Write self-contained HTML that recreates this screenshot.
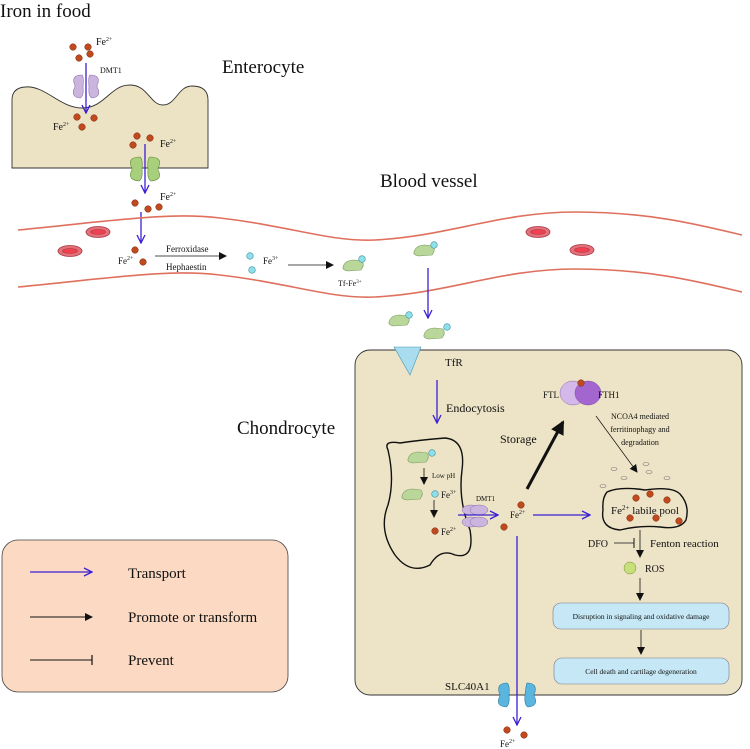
<!DOCTYPE html>
<html><head><meta charset="utf-8"><style>
html,body{margin:0;padding:0;background:#fff}
svg{display:block}
text{font-family:"Liberation Serif",serif;fill:#111}
</style></head><body>
<svg width="750" height="749" viewBox="0 0 750 749" xmlns="http://www.w3.org/2000/svg">
<defs>
<marker id="ab" markerWidth="10" markerHeight="10" refX="9" refY="5" orient="auto" markerUnits="userSpaceOnUse"><path d="M1,1 L9,5 L1,9" fill="none" stroke="#3a1fd6" stroke-width="1.3"/></marker>
<marker id="ak" markerWidth="8" markerHeight="8" refX="7" refY="4" orient="auto" markerUnits="userSpaceOnUse"><path d="M0,0 L8,4 L0,8 Z" fill="#111"/></marker>
<marker id="akb" markerWidth="14" markerHeight="14" refX="12" refY="7" orient="auto" markerUnits="userSpaceOnUse"><path d="M0,0 L14,7 L0,14 Z" fill="#111"/></marker>
<g id="fe"><circle r="3.3" fill="#c04a1e" stroke="#7a2a10" stroke-width="0.5"/></g>
<g id="fe3"><circle r="3.3" fill="#8fe0ea" stroke="#3a8fa0" stroke-width="0.6"/></g>
<g id="tf"><path d="M-11,2 Q-9,-5 0,-5 L8,-4 Q11,0 7,5 L-6,6 Q-12,5 -11,2Z" fill="#b9d79a" stroke="#7a9a5a" stroke-width="0.6"/></g>
<g id="rbc"><ellipse rx="12" ry="5.5" fill="#e5707a" stroke="#a53a44" stroke-width="0.8"/><ellipse rx="7.5" ry="2.5" fill="#f04050" stroke="#a53a44" stroke-width="0.6"/></g>
</defs>

<text x="0" y="17" font-size="19">Iron in food</text>
<text x="222" y="73" font-size="19">Enterocyte</text>
<text x="380" y="187" font-size="19">Blood vessel</text>
<text x="237" y="434" font-size="19">Chondrocyte</text>

<!-- enterocyte -->
<path d="M12,168 L12,100 Q12,88 25,87 C45,85 60,108 82,108 C105,108 110,85 130,85 C148,85 150,105 163,105 C176,105 178,86 192,86 Q208,86 208,100 L208,168 Z" fill="#ece2c4" stroke="#333" stroke-width="0.9"/>
<path d="M82,75 q-10,0 -8,8 q2,3 0,6 q-3,8 6,9 q4,-2 3,-11 q1,-10 -1,-12z" fill="#cbb5df" stroke="#8a72a8" stroke-width="0.6"/>
<path d="M90,75 q10,0 8,8 q-2,3 0,6 q3,8 -6,9 q-4,-2 -3,-11 q-1,-10 1,-12z" fill="#cbb5df" stroke="#8a72a8" stroke-width="0.6"/>
<line x1="86" y1="63" x2="86" y2="113" stroke="#3a1fd6" stroke-width="1.3" marker-end="url(#ab)"/>
<use href="#fe" x="73" y="47"/><use href="#fe" x="88" y="47"/><use href="#fe" x="79" y="58"/><use href="#fe" x="90" y="54"/>
<text x="96" y="45" font-size="10">Fe<tspan font-size="6" dy="-4">2+</tspan></text>
<text x="100" y="73" font-size="8">DMT1</text>
<use href="#fe" x="77" y="117"/><use href="#fe" x="94" y="118"/><use href="#fe" x="82" y="127"/>
<text x="53" y="130" font-size="10">Fe<tspan font-size="6" dy="-4">2+</tspan></text>
<use href="#fe" x="137" y="136"/><use href="#fe" x="150" y="138"/><use href="#fe" x="133" y="145"/>
<text x="160" y="147" font-size="10">Fe<tspan font-size="6" dy="-4">2+</tspan></text>
<path d="M140,157 q-12,0 -9,9 q2,3 0,6 q-3,8 8,9 q4,-2 3,-12 q1,-10 -2,-12z" fill="#a7cf7c" stroke="#5f8a3a" stroke-width="0.6"/>
<path d="M150,157 q12,0 9,9 q-2,3 0,6 q3,8 -8,9 q-4,-2 -3,-12 q-1,-10 2,-12z" fill="#a7cf7c" stroke="#5f8a3a" stroke-width="0.6"/>
<line x1="145" y1="144" x2="145" y2="193" stroke="#3a1fd6" stroke-width="1.3" marker-end="url(#ab)"/>
<text x="160" y="200" font-size="10">Fe<tspan font-size="6" dy="-4">2+</tspan></text>
<use href="#fe" x="135" y="203"/><use href="#fe" x="148" y="209"/><use href="#fe" x="159" y="207"/>
<line x1="141" y1="212" x2="141" y2="243" stroke="#3a1fd6" stroke-width="1.3" marker-end="url(#ab)"/>

<!-- vessel -->
<path d="M18,230 C120,220 170,212 220,218 C290,226 330,242 375,240 C450,236 500,212 575,212 C650,212 700,225 742,235" fill="none" stroke="#e0705e" stroke-width="1.6"/>
<path d="M18,287 C120,277 170,269 220,275 C290,283 330,299 375,297 C450,293 500,269 575,269 C650,269 700,282 742,292" fill="none" stroke="#e0705e" stroke-width="1.6"/>
<use href="#rbc" x="98" y="232"/><use href="#rbc" x="70" y="251"/><use href="#rbc" x="538" y="232"/><use href="#rbc" x="582" y="250"/>
<use href="#fe" x="135" y="250"/><use href="#fe" x="143" y="262"/>
<text x="118" y="264" font-size="9">Fe<tspan font-size="6" dy="-4">2+</tspan></text>
<text x="166" y="252" font-size="9">Ferroxidase</text>
<line x1="155" y1="256" x2="226" y2="256" stroke="#111" stroke-width="0.8" marker-end="url(#ak)"/>
<text x="166" y="270" font-size="9">Hephaestin</text>
<use href="#fe3" x="250" y="256"/><use href="#fe3" x="252" y="270"/>
<text x="263" y="264" font-size="9">Fe<tspan font-size="6" dy="-4">3+</tspan></text>
<line x1="288" y1="265" x2="333" y2="265" stroke="#111" stroke-width="0.8" marker-end="url(#ak)"/>
<use href="#tf" x="354" y="265"/><use href="#fe3" x="362" y="259"/>
<text x="338" y="286" font-size="8">Tf-Fe<tspan font-size="5" dy="-3">3+</tspan></text>
<use href="#tf" x="425" y="250"/><use href="#fe3" x="434" y="245"/>
<line x1="428" y1="268" x2="428" y2="318" stroke="#3a1fd6" stroke-width="1.3" marker-end="url(#ab)"/>
<use href="#tf" x="400" y="320"/><use href="#fe3" x="409" y="315"/>
<use href="#tf" x="435" y="333"/><use href="#fe3" x="447" y="327"/>

<!-- legend -->
<rect x="2" y="540" width="286" height="152" rx="16" fill="#fbd9c3" stroke="#444" stroke-width="0.8"/>
<line x1="30" y1="572" x2="92" y2="572" stroke="#3a1fd6" stroke-width="1.3" marker-end="url(#ab)"/>
<text x="128" y="578" font-size="15">Transport</text>
<line x1="30" y1="617" x2="92" y2="617" stroke="#111" stroke-width="1" marker-end="url(#ak)"/>
<text x="128" y="622" font-size="15">Promote or transform</text>
<line x1="30" y1="660" x2="92" y2="660" stroke="#111" stroke-width="1"/><line x1="92" y1="655" x2="92" y2="665" stroke="#111" stroke-width="1.2"/>
<text x="128" y="665" font-size="15">Prevent</text>

<!-- chondrocyte -->
<rect x="355" y="350" width="387" height="345" rx="15" fill="#ede3c6" stroke="#333" stroke-width="0.9"/>
<path d="M394,347 L421,347 L410,375 Z" fill="#a8dcee" stroke="#4a9ab8" stroke-width="0.6"/>
<text x="445" y="366" font-size="11">TfR</text>
<line x1="437" y1="380" x2="437" y2="423" stroke="#3a1fd6" stroke-width="1.3" marker-end="url(#ab)"/>
<text x="446" y="412" font-size="12">Endocytosis</text>
<path d="M388,450 Q383,440 400,443 Q420,440 445,438 Q466,440 462,470 Q458,500 470,530 Q475,560 455,555 Q440,548 430,565 Q410,575 395,555 Q378,530 388,505 Q395,480 388,450Z" fill="none" stroke="#111" stroke-width="1.4"/>
<use href="#tf" x="419" y="457"/><use href="#fe3" x="432" y="453"/>
<line x1="424" y1="468" x2="424" y2="484" stroke="#111" stroke-width="0.8" marker-end="url(#ak)"/>
<text x="432" y="478" font-size="7">Low pH</text>
<use href="#tf" x="413" y="494"/><use href="#fe3" x="435" y="494"/>
<text x="441" y="498" font-size="9">Fe<tspan font-size="6" dy="-4">3+</tspan></text>
<line x1="434" y1="500" x2="434" y2="517" stroke="#111" stroke-width="0.8" marker-end="url(#ak)"/>
<use href="#fe" x="435" y="531"/>
<text x="441" y="535" font-size="9">Fe<tspan font-size="6" dy="-4">2+</tspan></text>
<text x="476" y="501" font-size="7">DMT1</text>
<ellipse cx="471" cy="510" rx="9" ry="5" fill="#cbb5df" stroke="#8a72a8" stroke-width="0.5"/>
<ellipse cx="479" cy="510" rx="9" ry="5" fill="#cbb5df" stroke="#8a72a8" stroke-width="0.5"/>
<ellipse cx="471" cy="522" rx="9" ry="5" fill="#cbb5df" stroke="#8a72a8" stroke-width="0.5"/>
<ellipse cx="479" cy="522" rx="9" ry="5" fill="#cbb5df" stroke="#8a72a8" stroke-width="0.5"/>
<line x1="458" y1="515" x2="498" y2="515" stroke="#3a1fd6" stroke-width="1.3" marker-end="url(#ab)"/>
<use href="#fe" x="521" y="505"/><use href="#fe" x="504" y="527"/>
<text x="510" y="518" font-size="9">Fe<tspan font-size="6" dy="-4">2+</tspan></text>
<line x1="533" y1="515" x2="590" y2="515" stroke="#3a1fd6" stroke-width="1.3" marker-end="url(#ab)"/>
<line x1="517" y1="536" x2="517" y2="725" stroke="#3a1fd6" stroke-width="1.3" marker-end="url(#ab)"/>
<text x="500" y="443" font-size="12">Storage</text>
<line x1="527" y1="489" x2="563" y2="422" stroke="#111" stroke-width="3" marker-end="url(#akb)"/>
<ellipse cx="573" cy="393" rx="13" ry="12" fill="#d4b8ea" stroke="#8a72a8" stroke-width="0.5"/>
<ellipse cx="588" cy="393" rx="13" ry="12" fill="#a366cf" stroke="#7a4aa8" stroke-width="0.5"/>
<use href="#fe" x="581" y="383"/>
<text x="543" y="398" font-size="9">FTL</text>
<text x="598" y="398" font-size="9">FTH1</text>
<text x="640" y="419" font-size="8" text-anchor="middle">NCOA4 mediated</text>
<text x="640" y="432" font-size="8" text-anchor="middle">ferritinophagy and</text>
<text x="640" y="445" font-size="8" text-anchor="middle">degradation</text>
<line x1="596" y1="416" x2="637" y2="472" stroke="#111" stroke-width="0.7" marker-end="url(#ak)"/>
<g fill="none" stroke="#777" stroke-width="0.6">
<ellipse cx="614" cy="469" rx="3" ry="1.5"/><ellipse cx="624" cy="478" rx="3" ry="1.5"/><ellipse cx="646" cy="464" rx="3" ry="1.5"/><ellipse cx="649" cy="472" rx="3" ry="1.5"/><ellipse cx="667" cy="478" rx="3" ry="1.5"/><ellipse cx="603" cy="486" rx="3" ry="1.5"/></g>
<path d="M607,492 Q620,486 645,490 Q672,486 680,494 Q690,505 686,520 Q680,530 660,527 Q640,525 620,530 Q600,528 603,510 Q602,498 607,492Z" fill="none" stroke="#111" stroke-width="1.4"/>
<use href="#fe" x="636" y="498"/><use href="#fe" x="650" y="494"/><use href="#fe" x="667" y="500"/><use href="#fe" x="630" y="518"/><use href="#fe" x="656" y="518"/><use href="#fe" x="679" y="521"/>
<text x="611" y="514" font-size="11">Fe<tspan font-size="7" dy="-4">2+</tspan><tspan dy="4"> labile pool</tspan></text>
<line x1="640" y1="530" x2="640" y2="557" stroke="#111" stroke-width="0.8" marker-end="url(#ak)"/>
<text x="588" y="547" font-size="10">DFO</text>
<line x1="614" y1="543" x2="634" y2="543" stroke="#111" stroke-width="0.8"/><line x1="634" y1="538" x2="634" y2="548" stroke="#111" stroke-width="1"/>
<text x="650" y="547" font-size="11">Fenton reaction</text>
<circle cx="630" cy="568" r="6" fill="#c8e07a" stroke="#6a8a3a" stroke-width="0.5"/>
<text x="645" y="572" font-size="10">ROS</text>
<line x1="640" y1="578" x2="640" y2="600" stroke="#111" stroke-width="0.8" marker-end="url(#ak)"/>
<rect x="553" y="603" width="176" height="26" rx="8" fill="#c6e8f6" stroke="#778" stroke-width="0.6"/>
<text x="641" y="619" font-size="7.5" text-anchor="middle">Disruption in signaling and oxidative damage</text>
<line x1="641" y1="630" x2="641" y2="654" stroke="#111" stroke-width="0.8" marker-end="url(#ak)"/>
<rect x="554" y="658" width="175" height="26" rx="8" fill="#c6e8f6" stroke="#778" stroke-width="0.6"/>
<text x="641" y="674" font-size="7.5" text-anchor="middle">Cell death and cartilage degeneration</text>
<text x="445" y="690" font-size="11">SLC40A1</text>
<path d="M507,683 q-10,0 -8,9 q2,3 0,6 q-3,8 7,9 q4,-2 3,-12 q1,-10 -2,-12z" fill="#5ab6de" stroke="#2a7aa0" stroke-width="0.6"/>
<path d="M527,683 q10,0 8,9 q-2,3 0,6 q3,8 -7,9 q-4,-2 -3,-12 q1,-10 2,-12z" fill="#5ab6de" stroke="#2a7aa0" stroke-width="0.6"/>
<use href="#fe" x="507" y="730"/><use href="#fe" x="524" y="735"/>
<text x="500" y="747" font-size="9">Fe<tspan font-size="6" dy="-4">2+</tspan></text>
</svg>
</body></html>
